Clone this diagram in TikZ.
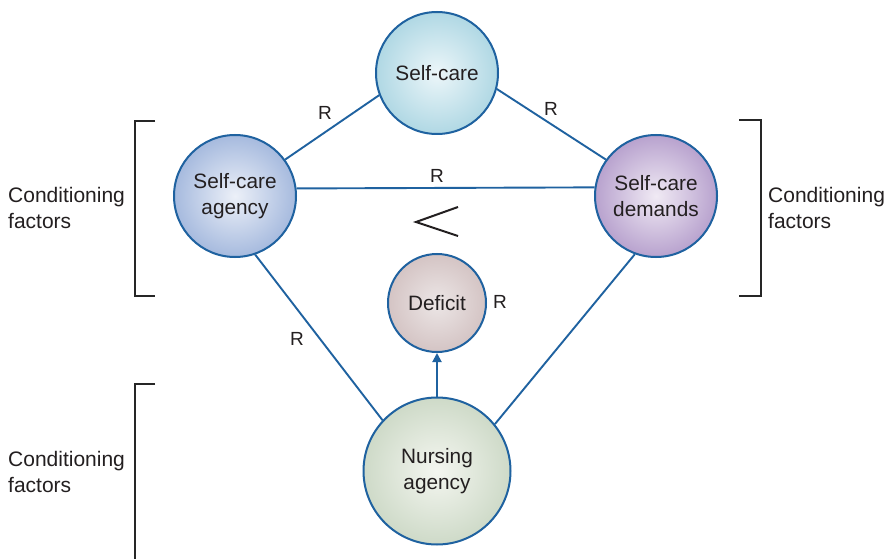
\documentclass[tikz,border=0pt]{standalone}
\usepackage{fontspec}
\setmainfont{Liberation Sans}
\usetikzlibrary{arrows.meta}
\definecolor{linec}{HTML}{1F62A0}
\definecolor{txt}{HTML}{231F20}
\definecolor{brk}{HTML}{262626}
\tikzset{
  bubble/.style={circle, draw=linec, line width=2pt, inner sep=0pt, align=center, text=txt,
    font=\fontsize{20.8}{26}\selectfont},
  conn/.style={draw=linec, line width=1.9pt},
  rlab/.style={text=txt, font=\fontsize{19}{22}\selectfont, inner sep=0pt},
  cond/.style={text=txt, font=\fontsize{21}{26}\selectfont, align=left, anchor=west, inner sep=0pt},
  brack/.style={draw=brk, line width=2.4pt},
}
\begin{document}
\begin{tikzpicture}[x=1pt,y=-1pt]
\fill[white] (0,0) rectangle (889,559);
\useasboundingbox (0,0) rectangle (889,559);
\begin{scope}
\clip (0,0) rectangle (889,559);

\node[bubble, minimum size=122pt, shading=radial, inner color={rgb,255:red,236;green,246;blue,249}, outer color={rgb,255:red,176;green,216;blue,228}] (selfcare) at (437,73) {Self-care};
\node[bubble, minimum size=122pt, shading=radial, inner color={rgb,255:red,236;green,240;blue,248}, outer color={rgb,255:red,166;green,186;blue,222}] (agency) at (235,196) {Self-care\\agency};
\node[bubble, minimum size=122pt, shading=radial, inner color={rgb,255:red,240;green,234;blue,244}, outer color={rgb,255:red,184;green,162;blue,206}] (demands) at (656,196) {Self-care\\demands};
\node[bubble, minimum size=98pt, shading=radial, inner color={rgb,255:red,236;green,230;blue,230}, outer color={rgb,255:red,212;green,196;blue,196}] (deficit) at (437,303) {Deficit};
\node[bubble, minimum size=147pt, shading=radial, inner color={rgb,255:red,244;green,246;blue,240}, outer color={rgb,255:red,206;green,218;blue,200}] (nursing) at (437,471) {Nursing\\agency};

\draw[conn] (agency.36.9) -- (selfcare.201);
\draw[conn] (selfcare.-15.6) -- (demands.144);
\draw[conn] (agency.7.5) -- (demands.172.5);
\draw[conn] (agency.-71.6) -- (nursing.137.8);
\draw[conn] (demands.250.4) -- (nursing.39.1);
\draw[conn, -{Triangle[length=9pt,width=9pt]}] (nursing.north) -- (deficit.south);

\draw[txt, line width=2pt] (458,207) -- (416,222) -- (458,236);

\node[rlab] (r1) at (325,113) {R};
\node[rlab] (r2) at (551,109) {R};
\node[rlab] (r3) at (437,176) {R};
\node[rlab] (r4) at (500,302) {R};
\node[rlab] (r5) at (297,339) {R};

\node[cond] (c1) at (8,208) {Conditioning\\factors};
\node[cond] (c2) at (768,208) {Conditioning\\factors};
\node[cond] (c3) at (8,472) {Conditioning\\factors};

\draw[brack] (155,121) -- (135,121) -- (135,296) -- (155,296);
\draw[brack] (739,120) -- (761,120) -- (761,296) -- (739,296);
\draw[brack] (155,384) -- (135,384) -- (135,562);
\end{scope}
\end{tikzpicture}
\end{document}
